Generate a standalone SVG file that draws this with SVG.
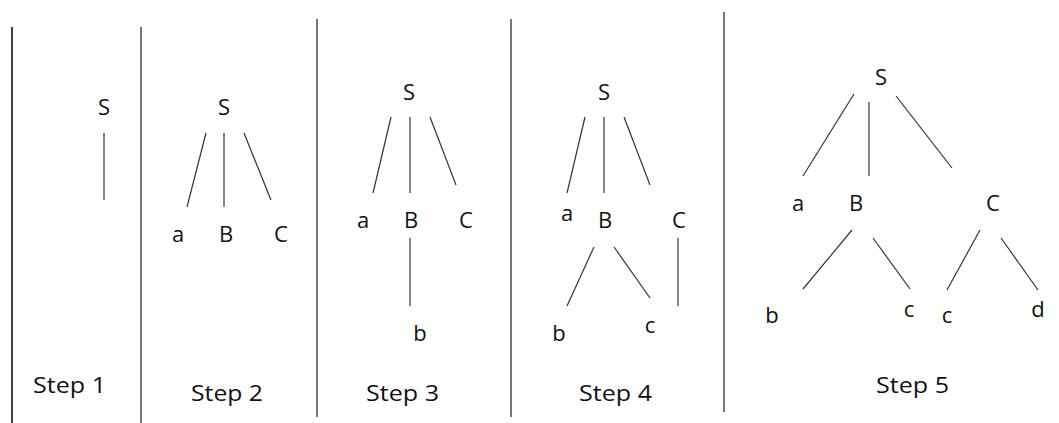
<svg xmlns="http://www.w3.org/2000/svg" width="1059" height="423" viewBox="0 0 1059 423">
<style>
.lbl{font-family:"Open Sans","Noto Sans","DejaVu Sans",sans-serif;font-size:22px;fill:#111;text-anchor:middle}
.step{font-family:"Open Sans","Noto Sans","DejaVu Sans",sans-serif;font-size:21px;fill:#111}
.div{stroke:#555;stroke-width:1.6}
.edge{stroke:#333;stroke-width:1.2}
</style>
<rect width="1059" height="423" fill="#fff"/>
<g id="dividers">
<line class="div" x1="12" y1="27" x2="12" y2="423" style="stroke:#111"/>
<line class="div" x1="141" y1="27" x2="141" y2="423"/>
<line class="div" x1="317" y1="19" x2="317" y2="417"/>
<line class="div" x1="511" y1="19" x2="511" y2="417"/>
<line class="div" x1="724" y1="12" x2="724" y2="412"/>
</g>
<g id="connectors">
<line class="edge" x1="104" y1="133" x2="104" y2="200"/>
<line class="edge" x1="206" y1="133" x2="187" y2="207"/>
<line class="edge" x1="224" y1="133" x2="224" y2="207"/>
<line class="edge" x1="244" y1="133" x2="271" y2="200"/>
<line class="edge" x1="391" y1="117" x2="373" y2="193"/>
<line class="edge" x1="410" y1="117" x2="410" y2="193"/>
<line class="edge" x1="430" y1="117" x2="456" y2="185"/>
<line class="edge" x1="410" y1="238" x2="410" y2="306"/>
<line class="edge" x1="585" y1="117" x2="567" y2="193"/>
<line class="edge" x1="604" y1="117" x2="604" y2="193"/>
<line class="edge" x1="624" y1="117" x2="650" y2="185"/>
<line class="edge" x1="594" y1="247" x2="567" y2="306"/>
<line class="edge" x1="614" y1="247" x2="650" y2="298"/>
<line class="edge" x1="678" y1="238" x2="678" y2="306"/>
<line class="edge" x1="854" y1="94" x2="803" y2="176"/>
<line class="edge" x1="869" y1="102" x2="869" y2="176"/>
<line class="edge" x1="896" y1="96" x2="952" y2="168"/>
<line class="edge" x1="852" y1="230" x2="803" y2="289"/>
<line class="edge" x1="873" y1="238" x2="910" y2="289"/>
<line class="edge" x1="980" y1="230" x2="947" y2="290"/>
<line class="edge" x1="1001" y1="238" x2="1038" y2="290"/>
</g>
<g id="step1">
<text class="lbl" x="104" y="115">S</text>
<text class="step" x="33" y="393" textLength="73" lengthAdjust="spacingAndGlyphs">Step 1</text>
</g>
<g id="step2">
<text class="lbl" x="224" y="115">S</text>
<text class="lbl" x="178" y="242">a</text>
<text class="lbl" x="226" y="242">B</text>
<text class="lbl" x="281" y="242">C</text>
<text class="step" x="191" y="401" textLength="72" lengthAdjust="spacingAndGlyphs">Step 2</text>
</g>
<g id="step3">
<text class="lbl" x="409" y="100">S</text>
<text class="lbl" x="363" y="228">a</text>
<text class="lbl" x="411" y="228">B</text>
<text class="lbl" x="466" y="228">C</text>
<text class="lbl" x="420" y="341">b</text>
<text class="step" x="366" y="401" textLength="73" lengthAdjust="spacingAndGlyphs">Step 3</text>
</g>
<g id="step4">
<text class="lbl" x="604" y="100">S</text>
<text class="lbl" x="567" y="221">a</text>
<text class="lbl" x="605" y="228">B</text>
<text class="lbl" x="679" y="228">C</text>
<text class="lbl" x="559" y="341">b</text>
<text class="lbl" x="650" y="333">c</text>
<text class="step" x="579" y="401" textLength="73" lengthAdjust="spacingAndGlyphs">Step 4</text>
</g>
<g id="step5">
<text class="lbl" x="881" y="85">S</text>
<text class="lbl" x="798" y="211">a</text>
<text class="lbl" x="856" y="211">B</text>
<text class="lbl" x="993" y="211">C</text>
<text class="lbl" x="772" y="323">b</text>
<text class="lbl" x="909" y="317">c</text>
<text class="lbl" x="947" y="323">c</text>
<text class="lbl" x="1038" y="317">d</text>
<text class="step" x="876" y="393" textLength="73" lengthAdjust="spacingAndGlyphs">Step 5</text>
</g>
</svg>
